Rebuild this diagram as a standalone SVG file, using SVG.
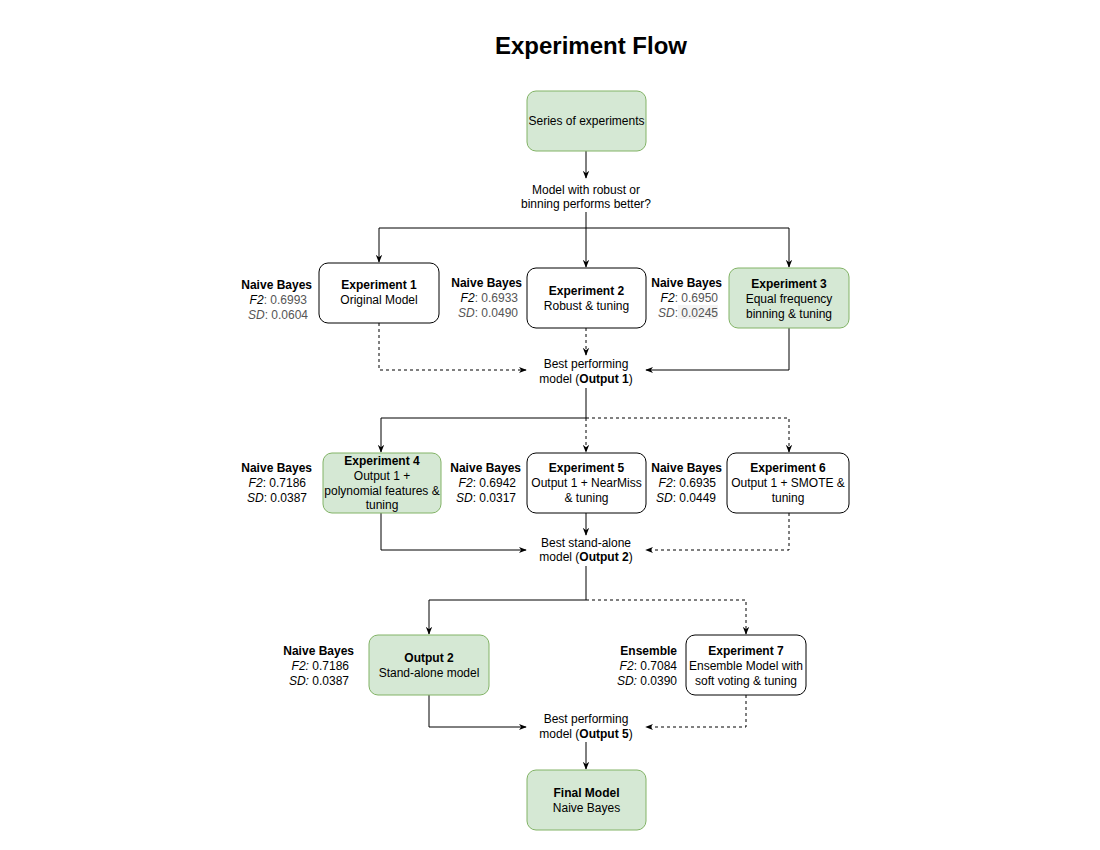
<svg xmlns="http://www.w3.org/2000/svg" width="1100" height="850" viewBox="0 0 1100 850">
  <defs>
    <marker id="arrow" viewBox="0 0 10 10" refX="9" refY="5" markerWidth="8" markerHeight="8" markerUnits="userSpaceOnUse" orient="auto">
      <path d="M0,1 L10,5 L0,9 L3,5 z" fill="#000"/>
    </marker>
    <style>
      text { font-family: "Liberation Sans", Arial, sans-serif; font-size: 12px; fill: #000; }
      .title { font-size: 24px; font-weight: bold; }
      .b { font-weight: bold; }
      .i { font-style: italic; }
      .g { fill: #555; }
      .box { fill: #fff; stroke: #000; stroke-width: 1; }
      .green { fill: #d5e8d4; stroke: #82b366; stroke-width: 1; }
      .edge { fill: none; stroke: #000; stroke-width: 1; }
      .dash { stroke-dasharray: 3 3; }
      .c { text-anchor: middle; }
      .r { text-anchor: end; }
    </style>
  </defs>

  <rect width="1100" height="850" fill="#fff"/>

  <text class="title c" x="591" y="54">Experiment Flow</text>

  <!-- connectors -->
  <g id="connectors">
    <path class="edge" d="M586,151 V178" marker-end="url(#arrow)"/>
    <path class="edge" d="M586,212 V228 H379 V262" marker-end="url(#arrow)"/>
    <path class="edge" d="M586,228 V267" marker-end="url(#arrow)"/>
    <path class="edge" d="M586,228 H789 V267" marker-end="url(#arrow)"/>

    <path class="edge dash" d="M379,323 V370 H526" marker-end="url(#arrow)"/>
    <path class="edge dash" d="M586,328 V355" marker-end="url(#arrow)"/>
    <path class="edge" d="M789,328 V370 H646" marker-end="url(#arrow)"/>

    <path class="edge" d="M586,388 V418 H381 V452" marker-end="url(#arrow)"/>
    <path class="edge dash" d="M586,418 V452" marker-end="url(#arrow)"/>
    <path class="edge dash" d="M586,418 H789 V452" marker-end="url(#arrow)"/>

    <path class="edge" d="M381,513 V550 H526" marker-end="url(#arrow)"/>
    <path class="edge" d="M586,513 V535" marker-end="url(#arrow)"/>
    <path class="edge dash" d="M789,513 V550 H646" marker-end="url(#arrow)"/>

    <path class="edge" d="M586,566 V600 H429 V634" marker-end="url(#arrow)"/>
    <path class="edge dash" d="M586,600 H746 V634" marker-end="url(#arrow)"/>

    <path class="edge" d="M429,695 V727 H526" marker-end="url(#arrow)"/>
    <path class="edge dash" d="M746,695 V727 H646" marker-end="url(#arrow)"/>

    <path class="edge" d="M586,742 V769" marker-end="url(#arrow)"/>
  </g>

  <g id="start">
    <rect class="green" x="527" y="91" width="119" height="60" rx="9"/>
    <text class="c" x="586.5" y="125">Series of experiments</text>
  </g>

  <g id="decision1">
    <text class="c" x="586" y="194">Model with robust or</text>
    <text class="c" x="586" y="208">binning performs better?</text>
  </g>

  <g id="exp1">
    <rect class="box" x="319" y="263" width="120" height="60" rx="9"/>
    <text class="c b" x="379" y="289">Experiment 1</text>
    <text class="c" x="379" y="304">Original Model</text>
    <text class="r b" x="312" y="289">Naive Bayes</text>
    <text class="r" x="307" y="304"><tspan class="i">F2</tspan><tspan class="g">: 0.6993</tspan></text>
    <text class="r g" x="308" y="319"><tspan class="i">SD</tspan>: 0.0604</text>
  </g>

  <g id="exp2">
    <rect class="box" x="527" y="268" width="119" height="60" rx="9"/>
    <text class="c b" x="586.5" y="295">Experiment 2</text>
    <text class="c" x="586.5" y="310">Robust &amp; tuning</text>
    <text class="r b" x="522" y="287">Naive Bayes</text>
    <text class="r" x="518" y="302"><tspan class="i">F2</tspan><tspan class="g">: 0.6933</tspan></text>
    <text class="r g" x="518" y="317"><tspan class="i">SD</tspan>: 0.0490</text>
  </g>

  <g id="exp3">
    <rect class="green" x="729" y="268" width="120" height="60" rx="9"/>
    <text class="c b" x="789" y="288">Experiment 3</text>
    <text class="c" x="789" y="303">Equal frequency</text>
    <text class="c" x="789" y="318">binning &amp; tuning</text>
    <text class="r b" x="722" y="287">Naive Bayes</text>
    <text class="r" x="718" y="302"><tspan class="i">F2</tspan><tspan class="g">: 0.6950</tspan></text>
    <rect x="678" y="305" width="40" height="14" fill="#f4f4f4"/>
    <text class="r g" x="718" y="317"><tspan class="i">SD</tspan>: 0.0245</text>
  </g>

  <g id="output1">
    <text class="c" x="586" y="368">Best performing</text>
    <text class="c" x="586" y="383">model (<tspan class="b">Output 1</tspan>)</text>
  </g>

  <g id="exp4">
    <rect class="green" x="323" y="453" width="118" height="60" rx="9"/>
    <text class="c b" x="382" y="465">Experiment 4</text>
    <text class="c" x="382" y="480">Output 1 +</text>
    <text class="c" x="382" y="495">polynomial features &amp;</text>
    <text class="c" x="382" y="509">tuning</text>
    <text class="r b" x="312" y="472">Naive Bayes</text>
    <text class="r" x="306" y="487"><tspan class="i">F2</tspan>: 0.7186</text>
    <text class="r" x="307" y="502"><tspan class="i">SD</tspan>: 0.0387</text>
  </g>

  <g id="exp5">
    <rect class="box" x="527" y="453" width="119" height="60" rx="9"/>
    <text class="c b" x="586.5" y="472">Experiment 5</text>
    <text class="c" x="586.5" y="487">Output 1 + NearMiss</text>
    <text class="c" x="586.5" y="502">&amp; tuning</text>
    <text class="r b" x="521" y="472">Naive Bayes</text>
    <text class="r" x="516" y="487"><tspan class="i">F2</tspan>: 0.6942</text>
    <text class="r" x="516" y="502"><tspan class="i">SD</tspan>: 0.0317</text>
  </g>

  <g id="exp6">
    <rect class="box" x="727" y="453" width="122" height="60" rx="9"/>
    <text class="c b" x="788" y="472">Experiment 6</text>
    <text class="c" x="788" y="487">Output 1 + SMOTE &amp;</text>
    <text class="c" x="788" y="502">tuning</text>
    <text class="r b" x="722" y="472">Naive Bayes</text>
    <text class="r" x="716" y="487"><tspan class="i">F2</tspan>: 0.6935</text>
    <text class="r" x="716" y="502"><tspan class="i">SD</tspan>: 0.0449</text>
  </g>

  <g id="output2-choice">
    <text class="c" x="586" y="547">Best stand-alone</text>
    <text class="c" x="586" y="561">model (<tspan class="b">Output 2</tspan>)</text>
  </g>

  <g id="output2">
    <rect class="green" x="369" y="635" width="120" height="60" rx="9"/>
    <text class="c b" x="429" y="662">Output 2</text>
    <text class="c" x="429" y="677">Stand-alone model</text>
    <text class="r b" x="354" y="655">Naive Bayes</text>
    <text class="r" x="349" y="670"><tspan class="i">F2:</tspan> 0.7186</text>
    <text class="r" x="349" y="685"><tspan class="i">SD:</tspan> 0.0387</text>
  </g>

  <g id="exp7">
    <rect class="box" x="686" y="635" width="120" height="60" rx="9"/>
    <text class="c b" x="746" y="655">Experiment 7</text>
    <text class="c" x="746" y="670">Ensemble Model with</text>
    <text class="c" x="746" y="685">soft voting &amp; tuning</text>
    <text class="r b" x="677" y="655">Ensemble</text>
    <text class="r" x="677" y="670"><tspan class="i">F2</tspan>: 0.7084</text>
    <text class="r" x="677" y="685"><tspan class="i">SD:</tspan> 0.0390</text>
  </g>

  <g id="output5">
    <text class="c" x="586" y="723">Best performing</text>
    <text class="c" x="586" y="738">model (<tspan class="b">Output 5</tspan>)</text>
  </g>

  <g id="final">
    <rect class="green" x="527" y="770" width="119" height="60" rx="9"/>
    <text class="c b" x="586.5" y="797">Final Model</text>
    <text class="c" x="586.5" y="812">Naive Bayes</text>
  </g>
</svg>
